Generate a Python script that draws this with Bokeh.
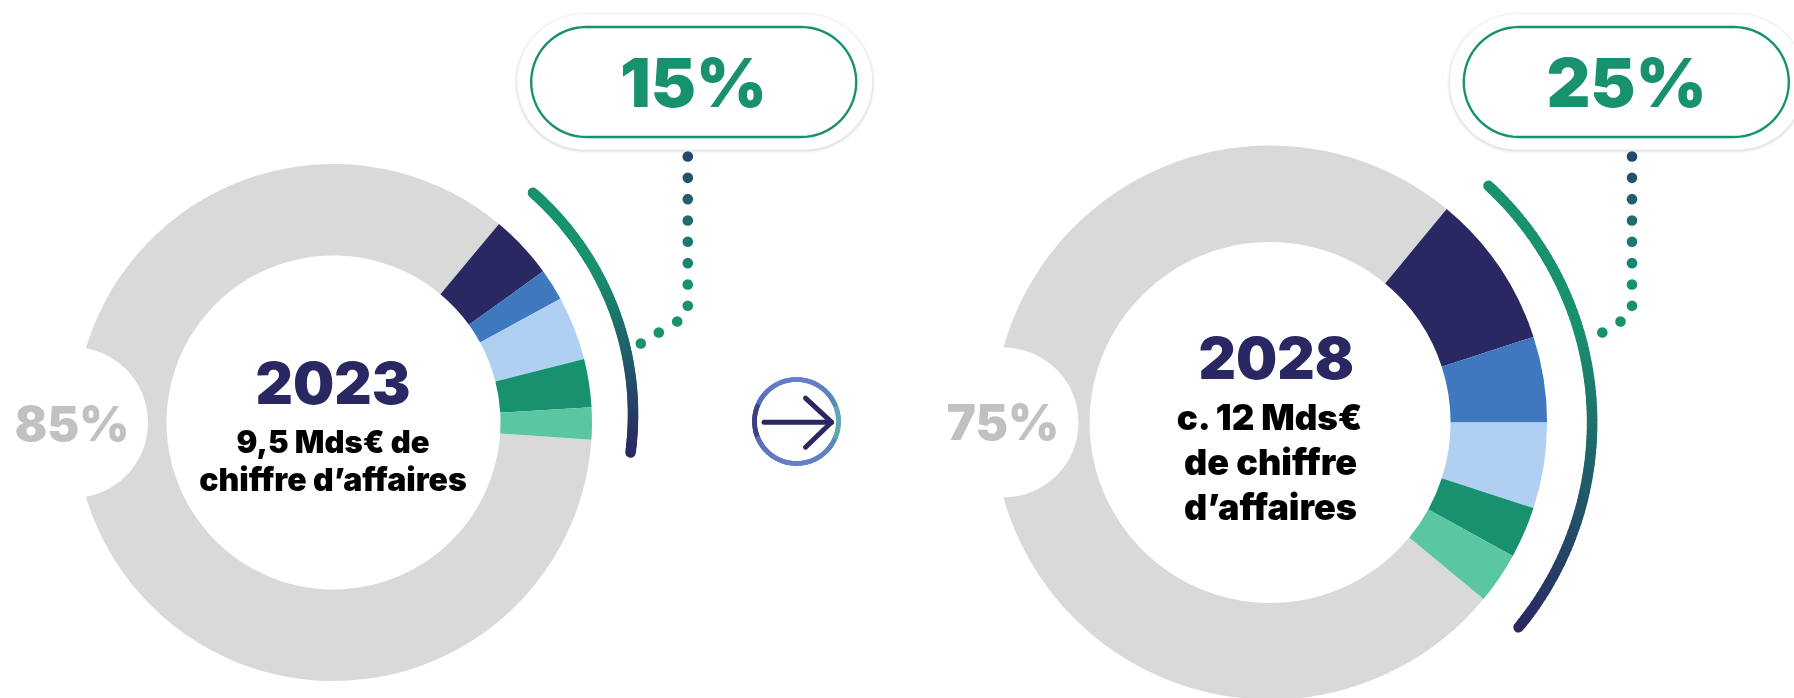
import numpy as np
from bokeh.plotting import figure
from bokeh.models import Range1d, ColumnDataSource
from bokeh.core.properties import value
from bokeh.embed import file_html
from bokeh.resources import INLINE

# ---- data ----
segment_colors = ["#2A2863", "#3F78BF", "#AFD0F2", "#18916F", "#5AC6A2"]
shares_2023 = [4, 2, 4, 3, 2]
rest_2023 = 85
shares_2028 = [9, 5, 5, 3, 3]
rest_2028 = 75
labels_2023 = ["2023", "9,5 Mds€ de", "chiffre d’affaires"]
labels_2028 = ["2028", "c. 12 Mds€", "de chiffre", "d’affaires"]
total_2023 = "15%"
total_2028 = "25%"
other_2023 = "85%"
other_2028 = "75%"

W, H = 1794, 698
GREEN, NAVY, GREY, TXT = "#18916F", "#2A2863", "#D9D9D9", "#000000"
FONT = value("Inter Black")

p = figure(width=W, height=H, output_backend="svg", toolbar_location=None,
           x_range=Range1d(0, W), y_range=Range1d(0, H), min_border=0,
           outline_line_color=None, background_fill_color="white",
           border_fill_color="white", x_axis_location=None, y_axis_location=None)
p.grid.visible = False
p.styles = {"position": "fixed", "left": "0px", "top": "0px"}


def Y(py):
    return H - np.asarray(py, dtype=float)


def mix(c1, c2, t):
    a = [int(c1[i:i + 2], 16) for i in (1, 3, 5)]
    b = [int(c2[i:i + 2], 16) for i in (1, 3, 5)]
    return "#%02x%02x%02x" % tuple(int(round(a[k] + (b[k] - a[k]) * t)) for k in range(3))


def donut(cx, cy, R, r, shares, rest, top_deg, notch_x, notch_r):
    vals = np.array(shares, dtype=float) * 3.6
    edges = top_deg - np.concatenate([[0], np.cumsum(vals)])
    src = ColumnDataSource(dict(
        x=[cx] * len(shares), y=[float(Y(cy))] * len(shares),
        start=np.radians(edges[1:]), end=np.radians(edges[:-1]),
        color=segment_colors[:len(shares)]))
    p.annular_wedge(x=cx, y=float(Y(cy)), inner_radius=r, outer_radius=R,
                    start_angle=np.radians(top_deg),
                    end_angle=np.radians(top_deg + rest * 3.6),
                    fill_color=GREY, line_color=None)
    p.annular_wedge(x="x", y="y", inner_radius=r, outer_radius=R, start_angle="start",
                    end_angle="end", fill_color="color", line_color=None, source=src)
    p.circle(x=notch_x, y=float(Y(cy)), radius=notch_r, fill_color="white", line_color=None)


def arc(cx, cy, rad, a0, a1, hold=0.35, width=10.5):
    t = np.linspace(0, 1, 90)
    a = np.radians(a0 + (a1 - a0) * t)
    xs, ys = cx + rad * np.cos(a), Y(cy) + rad * np.sin(a)
    cols = [mix(GREEN, NAVY, max(0, (u - hold) / (1 - hold))) for u in t[:-1]]
    p.segment(xs[:-1], ys[:-1], xs[1:], ys[1:], line_color=cols, line_width=width, line_cap="round")


def pill_pts(x0, x1, y0, y1, rad):
    t = np.linspace(0, np.pi / 2, 30)
    xs = np.concatenate([x1 - rad + rad * np.sin(t), x1 - rad + rad * np.cos(t),
                         x0 + rad - rad * np.sin(t), x0 + rad - rad * np.cos(t)])
    ys = np.concatenate([y0 + rad - rad * np.cos(t), y1 - rad + rad * np.sin(t),
                         y1 - rad + rad * np.cos(t), y0 + rad - rad * np.sin(t)])
    return xs, Y(ys)


def label(x, y, txt, size, color):
    # the SVG text baseline lands 0.385 em below the anchor, hence the shift
    p.text([x], Y([y - 0.385 * size]), text=[txt], text_color=color, text_font=FONT,
           text_font_size=f"{size}px", text_align="center", text_baseline="alphabetic")


def pill(x0, txt, tx):
    ox0, ox1, oy0, oy1 = x0 - 14, x0 + 341, 13.5, 149
    for e, al in ((3, .04), (2, .06), (1, .09)):
        xs, ys = pill_pts(ox0 - e, ox1 + e, oy0 - e + 1, oy1 + e + 1, (oy1 - oy0) / 2 + e)
        p.patch(xs, ys, fill_color="#777777", fill_alpha=al, line_color=None)
    xs, ys = pill_pts(ox0, ox1, oy0, oy1, (oy1 - oy0) / 2)
    p.patch(xs, ys, fill_color="white", line_color=None)
    xs, ys = pill_pts(x0, x0 + 325, 26.5, 136.5, 55)
    p.patch(xs, ys, fill_color="white", line_color=GREEN, line_width=2.4)
    label(tx, 108, txt, 68, GREEN)


def dots(x, tail):
    ys = 156 + np.arange(8) * 21.33
    cols = [mix("#234868", GREEN, min(1, i / 6)) for i in range(8)]
    p.scatter([x] * 8, Y(ys), size=10.6, marker="circle", fill_color=cols, line_color=None)
    tx, ty = zip(*tail)
    p.scatter(tx, Y(ty), size=10.6, marker="circle", fill_color=GREEN, line_color=None)


# left donut
donut(333, 422, 258.5, 167, shares_2023, rest_2023, 50.2, 72, 75.5)
arc(337, 414, 295.5, 48.6, -7.4)
dots(687.3, [(676.7, 321), (658.3, 332), (640.3, 343)])
pill(530.7, total_2023, 693)
label(71.5, 441, other_2023, 48, "#C1C1C1")
label(332.5, 405, labels_2023[0], 58, NAVY)
label(332.5, 453, labels_2023[1], 31, TXT)
label(332.5, 491, labels_2023[2], 32, TXT)

# right donut
donut(1269.6, 422, 277, 180.5, shares_2028, rest_2028, 50.4, 1003, 75)
arc(1269.6, 422, 322, 47.3, -39.5)
dots(1631.5, [(1620, 321), (1601.8, 332)])
pill(1463.3, total_2028, 1626)
label(1002.5, 441, other_2028, 49, "#C1C1C1")
label(1275.7, 380, labels_2028[0], 58, NAVY)
label(1270, 430, labels_2028[1], 35, TXT)
label(1270, 475.5, labels_2028[2], 36, TXT)
label(1270, 520, labels_2028[3], 36, TXT)

# arrow in gradient ring
ang = np.radians(np.linspace(0, 360, 121))
rx, ry = 796 + 42 * np.cos(ang), Y(421) + 42 * np.sin(ang)
ring = []
for a in ang[:-1]:
    c, s = np.cos(a), abs(np.sin(a))
    base = mix("#3C3F86", "#5FA8B8", (c + 1) / 2) if s < .4 else mix("#4A5AA8", "#6580CC", s)
    ring.append(mix(base, "#5FA8B8", max(0, c - .4)))
p.segment(rx[:-1], ry[:-1], rx[1:], ry[1:], line_color=ring, line_width=4.8, line_cap="round")
p.line([763.5, 831], Y([421.7, 421.7]), line_color=NAVY, line_width=5, line_cap="round")
p.line([805, 831, 805], Y([397.7, 421.7, 446.7]), line_color=NAVY, line_width=5,
       line_cap="round", line_join="round")

open("out.html", "w").write(file_html(p, INLINE))
